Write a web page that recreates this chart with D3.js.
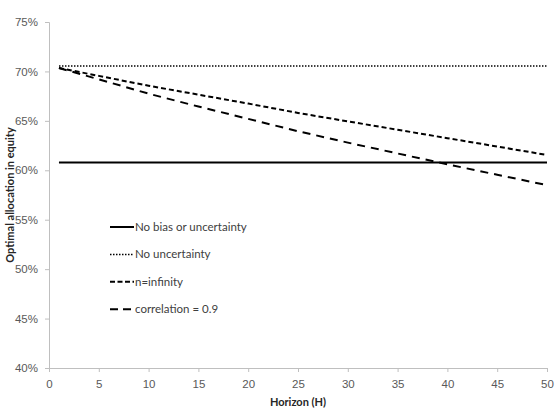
<!DOCTYPE html>
<html>
<head>
<meta charset="utf-8">
<script src="https://cdn.jsdelivr.net/npm/d3@7"></script>
<style>
  body { margin: 0; background: #fff; }
  svg { font-family: Lato, "Open Sans", sans-serif; }
</style>
</head>
<body>
<svg id="chart" width="559" height="420"></svg>
<script>
// horizon values (H)
var horizons = [1, 5, 10, 15, 20, 25, 30, 35, 40, 45, 50];
// optimal allocation in equity, percent
var noBias = [60.8, 60.8, 60.8, 60.8, 60.8, 60.8, 60.8, 60.8, 60.8, 60.8, 60.8];
var noUncertainty = [70.55, 70.55, 70.55, 70.55, 70.55, 70.55, 70.55, 70.55, 70.55, 70.55, 70.55];
var nInfinity = [70.35, 69.55, 68.55, 67.65, 66.75, 65.8, 64.95, 64.1, 63.25, 62.4, 61.55];
var correlation = [70.35, 69.2, 67.75, 66.45, 65.2, 63.95, 62.8, 61.7, 60.6, 59.55, 58.5];

var seriesNames = ["No bias or uncertainty", "No uncertainty", "n=infinity", "correlation = 0.9"];
var xTicks = [0, 5, 10, 15, 20, 25, 30, 35, 40, 45, 50];
var yTicks = [40, 45, 50, 55, 60, 65, 70, 75];

var styles = [
  { dash: null, width: 2 },
  { dash: "1.5,1.5", width: 1.5 },
  { dash: "5,3", width: 2 },
  { dash: "8,6", width: 2 }
];

var svg = d3.select("#chart");
var margin = { left: 49, right: 12, top: 22, bottom: 52 };
var width = 559 - margin.left - margin.right;
var height = 420 - margin.top - margin.bottom;

var x = d3.scaleLinear().domain([0, 50]).range([margin.left, margin.left + width]);
var y = d3.scaleLinear().domain([40, 75]).range([margin.top + height, margin.top]);

// y axis
var yAxis = svg.append("g")
  .attr("transform", "translate(" + margin.left + ",0)")
  .call(d3.axisLeft(y).tickValues(yTicks).tickSize(4).tickPadding(7)
    .tickFormat(function(d) { return d + "%"; }));
// x axis
var xAxis = svg.append("g")
  .attr("transform", "translate(0," + (margin.top + height) + ")")
  .call(d3.axisBottom(x).tickValues(xTicks).tickSize(4).tickPadding(8));

[xAxis, yAxis].forEach(function(ax) {
  ax.select(".domain").attr("stroke", "#bfbfbf");
  ax.selectAll(".tick line").attr("stroke", "#bfbfbf");
  ax.selectAll(".tick text").attr("fill", "#595959").style("font-size", "11.5px");
});

var allSeries = [noBias, noUncertainty, nInfinity, correlation];

var line = d3.line()
  .x(function(d, i) { return x(horizons[i]); })
  .y(function(d) { return y(d); });

allSeries.forEach(function(s, i) {
  svg.append("path")
    .datum(s)
    .attr("fill", "none")
    .attr("stroke", "#000")
    .attr("stroke-width", styles[i].width)
    .attr("stroke-dasharray", styles[i].dash)
    .attr("d", line);
});

// legend
var legend = svg.append("g").attr("transform", "translate(110,227)");
seriesNames.forEach(function(name, i) {
  var g = legend.append("g").attr("transform", "translate(0," + (i * 27.4) + ")");
  g.append("line")
    .attr("x1", 0).attr("x2", 24)
    .attr("stroke", "#000")
    .attr("stroke-width", styles[i].width)
    .attr("stroke-dasharray", i == 3 ? "8,5" : (i == 2 ? "5,2.5" : styles[i].dash));
  g.append("text")
    .attr("x", 25)
    .attr("dy", "0.35em")
    .attr("fill", "#404040")
    .style("font-size", "11.5px")
    .text(name);
});

// axis titles
svg.append("text")
  .attr("x", x(25))
  .attr("y", 406)
  .attr("text-anchor", "middle")
  .style("font-size", "11px")
  .style("font-weight", "bold")
  .attr("fill", "#262626")
  .text("Horizon (H)");

svg.append("text")
  .attr("transform", "translate(14," + y(57.5) + ") rotate(-90)")
  .attr("text-anchor", "middle")
  .style("font-size", "11px")
  .style("font-weight", "bold")
  .attr("fill", "#262626")
  .text("Optimal allocation in equity");
</script>
</body>
</html>
